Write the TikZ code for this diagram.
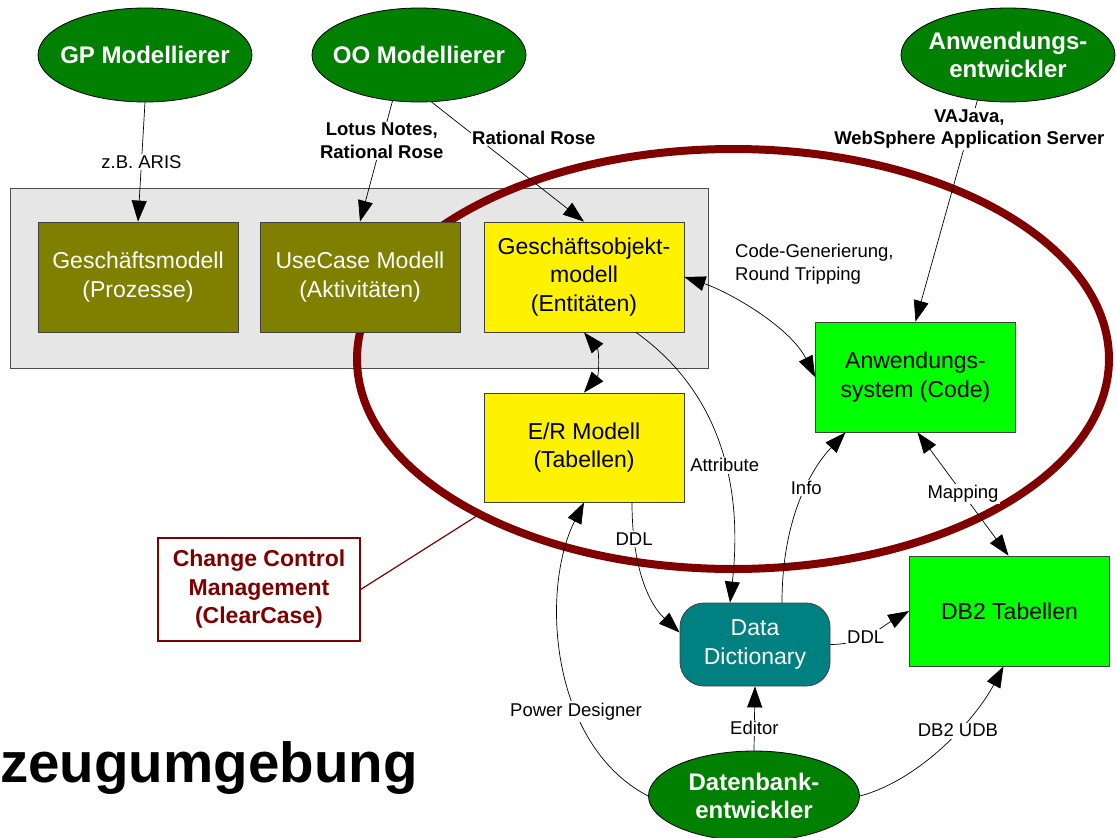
\documentclass[tikz,border=0pt]{standalone}
\usepackage{fontspec}
\setmainfont{Liberation Sans}
\usepackage{tikz}
\usetikzlibrary{arrows.meta,positioning,shapes.geometric,calc}
\definecolor{wz_green}{RGB}{0,128,0}
\definecolor{wz_olive}{RGB}{128,128,0}
\definecolor{wz_lime}{RGB}{0,255,0}
\definecolor{wz_teal}{RGB}{0,128,128}
\definecolor{wz_red}{RGB}{128,0,0}
\definecolor{wz_gray}{RGB}{230,230,230}
\newcommand{\actorfont}{\fontsize{24}{28}\selectfont\bfseries}
\newcommand{\boxfont}{\fontsize{23}{28.5}\selectfont}
\newcommand{\lblfont}{\fontsize{18.5}{22.5}\selectfont}

\begin{document}
\begin{tikzpicture}[x=1pt, y=-1pt,
    actor/.style={ellipse, draw=black, line width=0.8pt, fill=wz_green, text=white,
      font=\actorfont, align=center, inner xsep=-15pt, inner ysep=0pt,
      minimum width=214pt, minimum height=94pt},
    model/.style={draw=black!75, line width=0.8pt, minimum width=200pt,
      minimum height=110pt, align=center, font=\boxfont, inner sep=2pt},
    lbl/.style={fill=white, font=\lblfont, align=center, inner sep=1.5pt},
    conn/.style={draw, line width=0.7pt},
    oneway/.style={-{Triangle[length=21pt,width=15pt]}},
    twoway/.style={{Triangle[length=21pt,width=15pt]}-{Triangle[length=21pt,width=15pt]}}]
  \useasboundingbox (0,0) rectangle (1117,838);

  % tool environment and change control ring
  \node[draw=black!70, line width=0.8pt, fill=wz_gray, minimum width=698pt,
        minimum height=180pt, inner sep=0pt] (env) at (359,278) {};
  \draw[wz_red, line width=8pt] (733,359) ellipse [x radius=376, y radius=210];
  \coordinate (ringhit) at (483,512);

  % models
  \node[model, fill=wz_olive, text=white] (gm) at (138,277) {Gesch\"aftsmodell\\(Prozesse)};
  \node[model, fill=wz_olive, text=white] (uc) at (360,277) {UseCase Modell\\(Aktivit\"aten)};
  \node[model, fill=yellow] (geo) at (584,277) {Gesch\"aftsobjekt-\\modell\\(Entit\"aten)};
  \node[model, fill=yellow, minimum height=109pt] (er) at (584,447.5) {E/R Modell\\(Tabellen)};
  \node[model, fill=wz_lime] (as) at (915.5,377) {Anwendungs-\\system (Code)};
  \node[model, fill=wz_lime] (db2) at (1009.5,611) {DB2 Tabellen};
  \node[model, fill=wz_teal, text=white, rounded corners=24pt,
        minimum width=150pt, minimum height=83pt] (dd) at (755,644.5) {Data\\Dictionary};

  % roles
  \node[actor] (gp) at (145,55) {GP Modellierer};
  \node[actor] (oo) at (419,55) {OO Modellierer};
  \node[actor] (ae) at (1008,55) {Anwendungs-\\entwickler};
  \node[actor, minimum width=211pt, minimum height=90pt] (dbe) at (754,796) {Datenbank-\\entwickler};

  \node[draw=wz_red, line width=1.2pt, fill=white, text=wz_red, font=\boxfont\bfseries,
        align=center, minimum width=202pt, minimum height=103pt] (ccm) at (259,589.5)
        {Change Control\\Management\\(ClearCase)};
  \node[font=\fontsize{56.5}{60}\selectfont\bfseries, anchor=base west, inner sep=0pt]
        (title) at (0,782) {zeugumgebung};

  % connectors
  \draw[conn, oneway] (gp.south) -- node[lbl, pos=0.5] {z.B. ARIS} (gm.north);
  \draw[conn, oneway] (oo.240) -- node[lbl, font=\lblfont\bfseries, pos=0.33]
        {Lotus Notes,\\Rational Rose} (uc.north);
  \draw[conn, oneway] (oo.285) -- node[lbl, font=\lblfont\bfseries, pos=0.3,
        anchor=west, xshift=-7pt] {Rational Rose} (geo.north);
  \draw[conn, oneway] (ae.236) -- node[lbl, font=\lblfont\bfseries, pos=0.13]
        {VAJava,\\WebSphere Application Server} (as.north);
  \draw[conn, twoway] (geo.east) .. controls +(45,15) and +(-25,-50) .. (as.west);
  \node[font=\lblfont, align=left, anchor=west, inner sep=0pt] (cgrt) at (735,264)
        {Code-Generierung,\\Round Tripping};
  \draw[conn, twoway] (geo.south) to[bend left=40] (er.north);
  \draw[conn, oneway] ($(geo.south)+(52,0)$) .. controls (710,385) and (745,470) ..
        node[lbl, pos=0.6] {Attribute} ($(dd.north)+(-25,0)$);
  \draw[conn, oneway] ($(er.south)+(48,0)$) .. controls (632,570) and (650,605) ..
        node[lbl, pos=0.2] {DDL} ($(dd.west)+(0,-12)$);
  \draw[conn, oneway] (dbe.west) .. controls (550,745) and (540,590) ..
        node[lbl, pos=0.35] {Power Designer} (er.south);
  \draw[conn, oneway] (dbe.north) -- node[lbl, pos=0.35] {Editor} (dd.south);
  \draw[conn, oneway] (dbe.east) .. controls (920,780) and (975,720) ..
        node[lbl, pos=0.6] {DB2 UDB} ($(db2.south)+(-6,0)$);
  \draw[conn, oneway] (dd.east) to[out=0, in=210] node[lbl, pos=0.42] {DDL} (db2.west);
  \draw[conn, oneway] ($(dd.north)+(27,0)$) .. controls (782,520) and (810,470) ..
        node[lbl, pos=0.58] {Info} ($(as.south)+(-70,0)$);
  \draw[conn, twoway] ($(as.south)+(2,0)$) -- node[lbl, pos=0.5] {Mapping} ($(db2.north)+(-1,0)$);
  \draw[wz_red, line width=1.2pt] (ccm.east) -- (ringhit);
\end{tikzpicture}
\end{document}
